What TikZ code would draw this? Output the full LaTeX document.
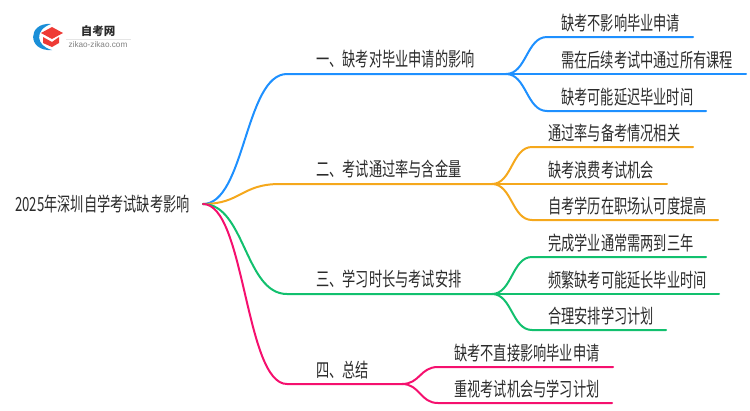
\documentclass[tikz,border=0pt]{standalone}
\usepackage{fontspec}
\setmainfont[FakeStretch=0.677]{Noto Sans CJK SC}
\newfontfamily\logofont{Noto Sans CJK SC}
\newfontfamily\latinfont{Liberation Sans}
\definecolor{blueline}{HTML}{1E90FF}
\definecolor{orangeline}{HTML}{F5A81C}
\definecolor{greenline}{HTML}{12C06E}
\definecolor{pinkline}{HTML}{F5106E}
\definecolor{inkgray}{HTML}{2B2B2B}
\definecolor{capred}{HTML}{EE3B36}
\definecolor{ringblue}{HTML}{1A8FD8}
\tikzset{
  branch/.style={line width=2pt,line cap=round},
  leaf/.style={line width=2pt,line cap=round},
  label/.style={anchor=base west,inner sep=0pt,font=\fontsize{19.5}{19.5}\selectfont,text=inkgray},
}
\begin{document}
\begin{tikzpicture}[x=1pt,y=-1pt]
    \useasboundingbox (0,0) rectangle (750,410);
    % logo
    \fill[ringblue] (51,24) .. controls (27,22) and (27,52) .. (52,50) .. controls (36,46) and (34,30) .. cycle;
    \fill[capred] (41,33) -- (52,27) -- (63,33) -- (52,39) -- cycle;
    \fill[capred] (43,37) -- (52,42) -- (59,37) -- (59,43) -- (52,47) -- (43,43) -- cycle;
    \node[inner sep=0pt,font=\fontsize{11.5}{11.5}\logofont\bfseries,text=inkgray] (logotitle) at (98,31) {自考网};
    \node[inner sep=0pt,font=\fontsize{8.2}{8.2}\latinfont,text=gray] (logosub) at (98,45) {zikao-zikao.com};
    \coordinate (logoa) at (66,39);
    \coordinate (logob) at (131,39);
    \draw[black!10,line width=0.5pt] (logoa) -- (logob);
    % root
    \node[label] (root) at (15,211) {2025年深圳自学考试缺考影响};
    \coordinate (start) at (203,204);
    % first level
    \node[label] (one) at (316,66.5) {一、缺考对毕业申请的影响};
    \node[label] (two) at (316,176.5) {二、考试通过率与含金量};
    \node[label] (three) at (316,286.5) {三、学习时长与考试安排};
    \node[label] (four) at (316,377.5) {四、总结};
    \coordinate (onebend) at (287,74);    \coordinate (oneend) at (506,74);
    \coordinate (twobend) at (280,184);   \coordinate (twoend) at (492,184);
    \coordinate (threebend) at (287,294); \coordinate (threeend) at (492,294);
    \coordinate (fourbend) at (287,384);  \coordinate (fourend) at (402,384);
    \draw[branch,blueline] (start) .. controls (245,204) and (245,74) .. (onebend) -- (oneend);
    \draw[branch,orangeline] (start) .. controls (241,204) and (241,184) .. (twobend) -- (twoend);
    \draw[branch,greenline] (start) .. controls (245,204) and (245,294) .. (threebend) -- (threeend);
    \draw[branch,pinkline] (start) .. controls (245,204) and (245,384) .. (fourbend) -- (fourend);
    % second level
    \foreach \name/\y/\endx/\txt in {
        lefta/37/693/缺考不影响毕业申请,
        leftb/74/746/需在后续考试中通过所有课程,
        leftc/111/706/缺考可能延迟毕业时间} {
      \node[label] (\name) at (561,\y-6.5) {\txt};
      \coordinate (\name e) at (\endx,\y);
      \draw[leaf,blueline] (oneend) .. controls (526.5,74) and (526.5,\y) .. (547,\y) -- (\name e);
    }
    \foreach \name/\y/\endx/\txt in {
        passa/147/693/通过率与备考情况相关,
        passb/184/667/缺考浪费考试机会,
        passc/220/718/自考学历在职场认可度提高} {
      \node[label] (\name) at (548,\y-6.5) {\txt};
      \coordinate (\name e) at (\endx,\y);
      \draw[leaf,orangeline] (twoend) .. controls (512,184) and (512,\y) .. (532,\y) -- (\name e);
    }
    \foreach \name/\y/\endx/\txt in {
        timea/257/706/完成学业通常需两到三年,
        timeb/294/719/频繁缺考可能延长毕业时间,
        timec/330/666/合理安排学习计划} {
      \node[label] (\name) at (548,\y-6.5) {\txt};
      \coordinate (\name e) at (\endx,\y);
      \draw[leaf,greenline] (threeend) .. controls (512,294) and (512,\y) .. (532,\y) -- (\name e);
    }
    \foreach \name/\y/\endx/\txt in {
        suma/367/613/缺考不直接影响毕业申请,
        sumb/403/612/重视考试机会与学习计划} {
      \node[label] (\name) at (454,\y-6.5) {\txt};
      \coordinate (\name e) at (\endx,\y);
      \draw[leaf,pinkline] (fourend) .. controls (420,384) and (420,\y) .. (438,\y) -- (\name e);
    }
\end{tikzpicture}
\end{document}
